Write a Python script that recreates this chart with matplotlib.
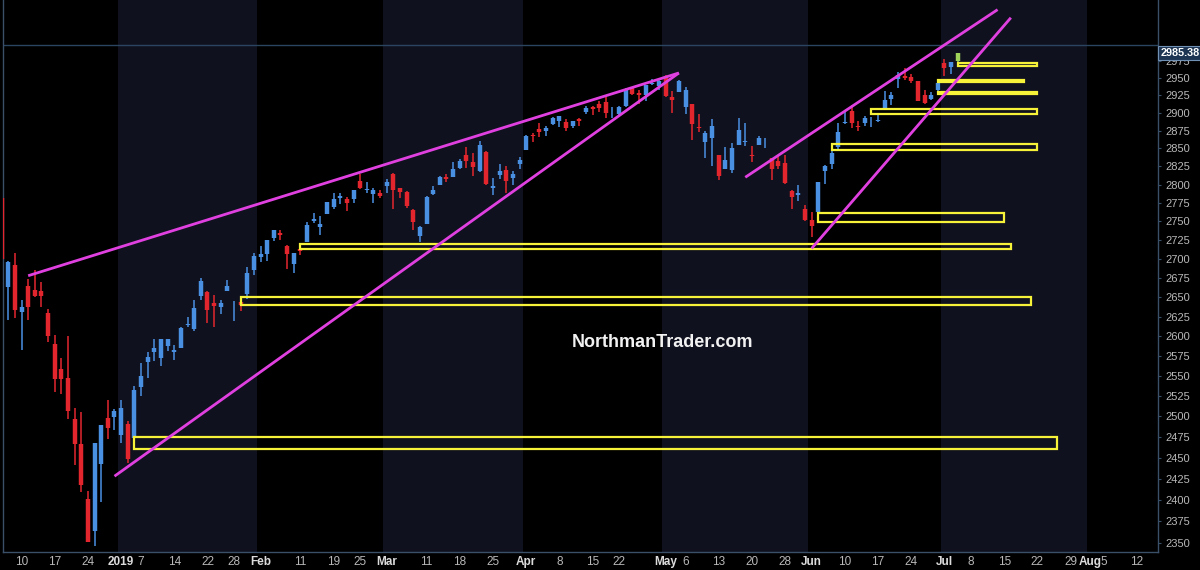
import numpy as np
import matplotlib
matplotlib.use("Agg")
import matplotlib.pyplot as plt
from matplotlib.patches import Rectangle
from matplotlib.ticker import FixedLocator, FixedFormatter, NullLocator, NullFormatter
from matplotlib.transforms import blended_transform_factory

# ---------------- calendar (trading days) ----------------
HOLIDAYS = ["2018-12-05", "2018-12-25", "2019-01-01", "2019-01-21",
            "2019-02-18", "2019-04-19", "2019-05-27", "2019-07-04"]
CAL_START, CAL_END = "2018-12-04", "2019-08-17"

# ---------------- daily OHLC, Dec 4 2018 .. Jul 3 2019 ----------------
opens = [
    # Dec
    2782, 2663, 2692, 2631, 2665, 2659, 2658, 2629, 2590, 2559, 2548, 2497, 2466, 2401, 2364, 2443, 2498, 2499,
    # Jan
    2477, 2491, 2474, 2536, 2568, 2580, 2573, 2588, 2580, 2585, 2614, 2609, 2651, 2657, 2643, 2638, 2658, 2644, 2644, 2654, 2685,
    # Feb
    2703, 2706, 2728, 2735, 2717, 2693, 2713, 2722, 2751, 2743, 2760, 2770, 2782, 2781, 2780, 2805, 2793, 2787, 2789,
    # Mar
    2798, 2815, 2795, 2790, 2766, 2731, 2747, 2787, 2800, 2811, 2811, 2823, 2841, 2831, 2819, 2845, 2796, 2813, 2820, 2809, 2828,
    # Apr
    2848, 2869, 2877, 2874, 2884, 2888, 2887, 2881, 2891, 2901, 2908, 2912, 2916, 2905, 2899, 2910, 2935, 2928, 2926, 2941, 2938,
    # May
    2953, 2923, 2930, 2908, 2913, 2880, 2859, 2864, 2841, 2821, 2820, 2855, 2859, 2841, 2855, 2856, 2836, 2833, 2830, 2791, 2786, 2767,
    # Jun
    2752, 2763, 2819, 2829, 2852, 2885, 2903, 2882, 2886, 2887, 2889, 2907, 2920, 2949, 2952, 2951, 2945, 2926, 2919, 2932,
    # Jul
    2971, 2965, 2975,
]
highs = [
    2785, 2697, 2708, 2646, 2674, 2685, 2670, 2635, 2601, 2573, 2600, 2510, 2505, 2410, 2468, 2489, 2520, 2509,
    2520, 2494, 2538, 2566, 2580, 2596, 2597, 2597, 2589, 2612, 2625, 2646, 2675, 2658, 2653, 2647, 2673, 2645, 2650, 2690, 2708,
    2717, 2725, 2738, 2739, 2719, 2708, 2718, 2749, 2761, 2757, 2776, 2788, 2789, 2783, 2793, 2814, 2803, 2796, 2792,
    2808, 2816, 2795, 2791, 2767, 2744, 2784, 2798, 2812, 2815, 2831, 2835, 2852, 2843, 2860, 2846, 2809, 2829, 2825, 2819, 2838,
    2869, 2872, 2885, 2882, 2894, 2896, 2891, 2889, 2893, 2910, 2909, 2917, 2922, 2908, 2910, 2936, 2936, 2933, 2940, 2949, 2948,
    2954, 2931, 2947, 2937, 2913, 2898, 2875, 2891, 2841, 2852, 2858, 2892, 2885, 2853, 2868, 2865, 2836, 2841, 2841, 2792, 2799, 2772,
    2763, 2804, 2827, 2853, 2885, 2904, 2911, 2888, 2895, 2894, 2898, 2931, 2930, 2958, 2964, 2955, 2946, 2932, 2929, 2944,
    2977, 2973, 2986,
]
lows = [
    2694, 2621, 2623, 2583, 2621, 2650, 2637, 2593, 2530, 2528, 2497, 2441, 2409, 2351, 2347, 2398, 2473, 2483,
    2468, 2444, 2474, 2525, 2548, 2569, 2562, 2581, 2570, 2585, 2612, 2606, 2647, 2617, 2612, 2628, 2658, 2619, 2632, 2648, 2679,
    2696, 2698, 2724, 2725, 2687, 2682, 2705, 2722, 2748, 2732, 2760, 2767, 2773, 2764, 2775, 2794, 2789, 2775, 2782,
    2788, 2767, 2782, 2768, 2739, 2722, 2747, 2786, 2800, 2804, 2811, 2822, 2823, 2812, 2817, 2800, 2786, 2808, 2788, 2799, 2822,
    2848, 2859, 2866, 2868, 2883, 2880, 2875, 2879, 2882, 2898, 2897, 2901, 2892, 2892, 2896, 2908, 2926, 2912, 2917, 2939, 2932,
    2923, 2900, 2930, 2898, 2862, 2873, 2836, 2826, 2806, 2821, 2816, 2855, 2854, 2831, 2855, 2851, 2806, 2821, 2801, 2767, 2777, 2751,
    2729, 2755, 2801, 2822, 2847, 2884, 2878, 2874, 2882, 2880, 2887, 2905, 2911, 2935, 2947, 2942, 2917, 2912, 2918, 2930,
    2952, 2955, 2972,
]
closes = [
    2700, 2696, 2633, 2638, 2637, 2651, 2651, 2600, 2546, 2546, 2507, 2467, 2417, 2351, 2468, 2489, 2486, 2507,
    2510, 2448, 2532, 2550, 2574, 2585, 2597, 2596, 2583, 2610, 2616, 2636, 2671, 2633, 2639, 2642, 2665, 2644, 2640, 2681, 2704,
    2707, 2725, 2738, 2732, 2706, 2708, 2710, 2745, 2753, 2746, 2776, 2780, 2785, 2775, 2793, 2796, 2794, 2792, 2784,
    2804, 2793, 2790, 2771, 2749, 2743, 2783, 2792, 2811, 2808, 2822, 2833, 2833, 2824, 2855, 2801, 2798, 2818, 2805, 2815, 2834,
    2867, 2867, 2873, 2879, 2893, 2896, 2878, 2888, 2888, 2907, 2906, 2907, 2900, 2905, 2908, 2934, 2927, 2926, 2940, 2943, 2946,
    2924, 2918, 2946, 2932, 2884, 2879, 2871, 2881, 2812, 2834, 2851, 2876, 2860, 2840, 2864, 2856, 2822, 2826, 2802, 2783, 2789, 2752,
    2744, 2803, 2826, 2843, 2873, 2887, 2886, 2880, 2892, 2887, 2890, 2918, 2926, 2954, 2950, 2945, 2917, 2914, 2925, 2942,
    2964, 2973, 2985.38,
]
LAST_PRICE = 2985.38
PRICE_LINE = 2997

# ---------------- annotations ----------------
# trend lines: (start date, start price, end date, end price)
trend_lines = [
    ("2018-12-11", 2678, "2019-05-03", 2957),
    ("2018-12-31", 2428, "2019-05-03", 2957),
    ("2019-05-17", 2810, "2019-07-12", 3050),
    ("2019-06-03", 2714, "2019-07-16", 3038),
]
# support zones: (left date, right date, low price, high price)
zones = [
    ("2019-01-04", "2019-07-25", 2461, 2475),
    ("2019-01-29", "2019-07-19", 2640, 2650),
    ("2019-02-11", "2019-07-16", 2713.5, 2720),
    ("2019-06-04", "2019-07-15", 2749, 2761),
    ("2019-06-06", "2019-07-22", 2847.5, 2855.5),
    ("2019-06-14", "2019-07-22", 2898, 2906),
    ("2019-06-28", "2019-07-22", 2926.5, 2929),
    ("2019-06-28", "2019-07-18", 2944, 2947),
    ("2019-07-03", "2019-07-22", 2967, 2971.5),
]
SHADED_MONTHS = ["2019-01", "2019-03", "2019-05", "2019-07"]

TICK_DATES = ["2018-12-10", "2018-12-17", "2018-12-24", "2019-01-02", "2019-01-07", "2019-01-14",
              "2019-01-22", "2019-01-28", "2019-02-01", "2019-02-11", "2019-02-19", "2019-02-25",
              "2019-03-01", "2019-03-11", "2019-03-18", "2019-03-25", "2019-04-01", "2019-04-08",
              "2019-04-15", "2019-04-22", "2019-05-01", "2019-05-06", "2019-05-13", "2019-05-20",
              "2019-05-28", "2019-06-03", "2019-06-10", "2019-06-17", "2019-06-24", "2019-07-01",
              "2019-07-08", "2019-07-15", "2019-07-22", "2019-07-29", "2019-08-01", "2019-08-05",
              "2019-08-12"]
TICK_LABELS = ["10", "17", "24", "2019", "7", "14", "22", "28", "Feb", "11", "19", "25",
               "Mar", "11", "18", "25", "Apr", "8", "15", "22", "May", "6", "13", "20",
               "28", "Jun", "10", "17", "24", "Jul", "8", "15", "22", "29", "Aug", "5", "12"]
Y_TICKS = list(range(2350, 3000, 25))

# ---------------- build calendar ----------------
days = np.arange(np.datetime64(CAL_START), np.datetime64(CAL_END))
days = days[np.is_busday(days, holidays=np.array(HOLIDAYS, dtype="datetime64[D]"))]
cal = [str(d) for d in days]
pos = {d: i for i, d in enumerate(cal)}

plt.rcParams["font.family"] = ["Liberation Sans", "DejaVu Sans"]
fig = plt.figure(figsize=(12, 5.7), dpi=100, facecolor="black")
ax = fig.add_axes([0.0025, 0.0316, 0.9625, 0.9684])
ax.set_facecolor("black")
ax.set_yscale("log")

# month shading
for m in SHADED_MONTHS:
    idx = [i for i, d in enumerate(cal) if d.startswith(m)]
    ax.axvspan(idx[0] - 0.5, idx[-1] + 0.5, color="#10111f", zorder=0, lw=0)

# price line
ax.axhline(PRICE_LINE, color="#2b4560", lw=1, zorder=1)

# candles
BLUE, RED, LAST = "#4a90e2", "#e3262e", "#9fd35a"
n = len(closes)
x = np.arange(n)
for i in range(n):
    o, h, l, c = opens[i], highs[i], lows[i], closes[i]
    col = BLUE if c >= o else RED
    if i == n - 1:
        col = LAST
    ax.vlines(x[i], l, h, color=col, lw=1.1, zorder=3)
    ax.vlines(x[i], min(o, c), max(o, c), color=col, lw=3.2, zorder=3)

# support zones
for d0, d1, lo, hi in zones:
    ax.add_patch(Rectangle((pos[d0], lo), pos[d1] - pos[d0], hi - lo,
                           fill=False, ec="#f6f23a", lw=1.6, zorder=4))

# trend lines
for d0, p0, d1, p1 in trend_lines:
    ax.plot([pos[d0], pos[d1]], [p0, p1], color="#e040e0", lw=2.0,
            solid_capstyle="butt", zorder=5)

# axes limits
ax.set_xlim(0.21, 174.16)
ax.set_ylim(2339.7, 3064.4)

# y axis (right)
ax.yaxis.tick_right()
ax.yaxis.set_major_locator(FixedLocator(Y_TICKS))
ax.yaxis.set_major_formatter(FixedFormatter([str(v) for v in Y_TICKS]))
ax.yaxis.set_minor_locator(NullLocator())
ax.yaxis.set_minor_formatter(NullFormatter())
ax.tick_params(axis="y", colors="#3a5068", labelcolor="#b8b8b8", labelsize=8,
               length=2, pad=3, direction="out")

# x axis
ax.set_xticks([pos[d] for d in TICK_DATES])
ax.set_xticklabels(TICK_LABELS)
ax.tick_params(axis="x", length=0, pad=3, labelsize=8.5, labelcolor="#b8b8b8")
for lab in ax.get_xticklabels():
    if not lab.get_text().isdigit() or lab.get_text() == "2019":
        lab.set_fontweight("bold")
        lab.set_color("#dcdcdc")

for s in ["left", "bottom", "right"]:
    ax.spines[s].set_color("#3a5068")
    ax.spines[s].set_linewidth(1)
ax.spines["top"].set_visible(False)

# last price label
tr = blended_transform_factory(ax.transAxes, ax.transData)
ax.text(1.002, LAST_PRICE, f"{LAST_PRICE:.2f}", transform=tr, ha="left", va="center",
        color="white", fontsize=7.8, fontweight="bold", zorder=10, clip_on=False,
        bbox=dict(boxstyle="square,pad=0.18", fc="#1d3552", ec="#7090b4", lw=0.8))

# watermark
ax.text(0.571, 0.379, "NorthmanTrader.com", transform=ax.transAxes, ha="center",
        va="center", color="#f2f2f2", fontsize=13, fontweight="bold", zorder=6)

fig.savefig("out.png", dpi=100, facecolor="black")
